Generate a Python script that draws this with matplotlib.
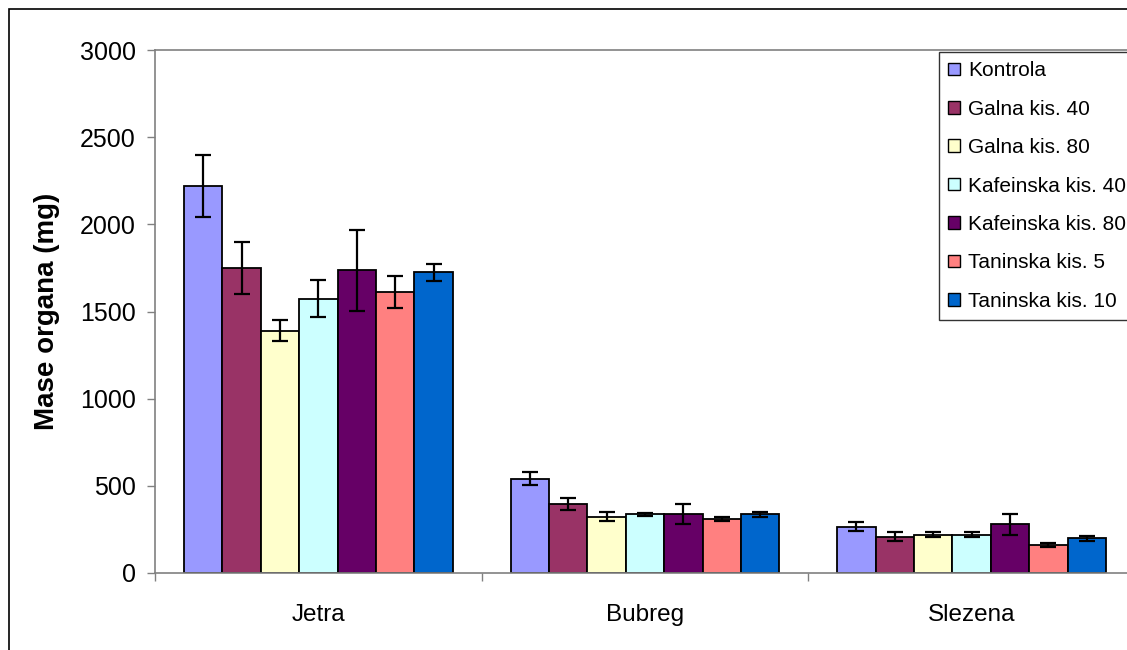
import numpy as np
import matplotlib
matplotlib.use("Agg")
import matplotlib.pyplot as plt
from matplotlib.patches import Rectangle

plt.rcParams['font.family'] = ['Liberation Sans', 'DejaVu Sans']

# --- Data ---
organs = ['Jetra', 'Bubreg', 'Slezena']
groups = ['Kontrola', 'Galna kis. 40', 'Galna kis. 80', 'Kafeinska kis. 40',
          'Kafeinska kis. 80', 'Taninska kis. 5', 'Taninska kis. 10']
colors = ['#9999FF', '#993366', '#FFFFCC', '#CCFFFF', '#660066', '#FF8080', '#0066CC']

# mean mass per group, one list per organ order
means = {
    'Kontrola':          [2220, 541, 266],
    'Galna kis. 40':     [1748, 394, 208],
    'Galna kis. 80':     [1390, 323, 220],
    'Kafeinska kis. 40': [1574, 337, 220],
    'Kafeinska kis. 80': [1736, 337, 279],
    'Taninska kis. 5':   [1610, 312, 162],
    'Taninska kis. 10':  [1725, 337, 199],
}
errors = {
    'Kontrola':          [180, 37, 25],
    'Galna kis. 40':     [150, 34, 25],
    'Galna kis. 80':     [60, 25, 15],
    'Kafeinska kis. 40': [105, 10, 15],
    'Kafeinska kis. 80': [232, 57, 60],
    'Taninska kis. 5':   [92, 12, 10],
    'Taninska kis. 10':  [48, 13, 13],
}
yticks = [0, 500, 1000, 1500, 2000, 2500, 3000]

W, H = 1127, 650
fig = plt.figure(figsize=(W / 100, H / 100), dpi=100)
fig.patch.set_facecolor('white')

# outer chart border (cropped on right/bottom like the original)
fig.add_artist(Rectangle((9 / W, -0.05), 1.1, 1 - 9 / H + 0.05, transform=fig.transFigure,
                         fill=False, edgecolor='black', linewidth=1.2))

ax = fig.add_axes([155 / W, 77 / H, (1135 - 155) / W, 523 / H])
x = np.arange(len(organs))
bw = 0.1176
for i, g in enumerate(groups):
    ax.bar(x + (i - 3) * bw, means[g], bw, color=colors[i], edgecolor='black',
           linewidth=1.3, label=g, zorder=2,
           yerr=errors[g], capsize=5.8,
           error_kw=dict(ecolor='black', elinewidth=1.6, capthick=1.6))

ax.set_xlim(-0.5, 2.5)
ax.set_ylim(0, 3000)
ax.set_yticks(yticks)
ax.set_xticks(x)
ax.set_xticklabels(organs)
ax.set_xticks([-0.5, 0.5, 1.5, 2.5], minor=True)
ax.tick_params(axis='x', which='major', length=0, pad=22, labelsize=17.5)
ax.tick_params(axis='x', which='minor', length=6, width=1, color='#808080', direction='out')
ax.tick_params(axis='y', length=6, width=1, color='#808080', direction='out', pad=8, labelsize=18)

for s in ['left', 'bottom', 'top']:
    ax.spines[s].set_color('#808080')
    ax.spines[s].set_linewidth(1.2)
ax.spines['right'].set_visible(False)

ax.set_ylabel('Mase organa (mg)', fontsize=20, fontweight='bold', labelpad=14)

leg = ax.legend(loc='upper left', bbox_to_anchor=(939 / W, 1 - 52 / H),
                bbox_transform=fig.transFigure, fontsize=15, frameon=True,
                fancybox=False, borderaxespad=0, handlelength=0.55, handleheight=0.55,
                handletextpad=0.4, labelspacing=0.93, borderpad=0.45)
leg.get_frame().set_edgecolor('black')
leg.get_frame().set_linewidth(1.0)
for p in leg.get_patches():
    p.set_linewidth(1.0)

fig.savefig('out.png', dpi=100)
